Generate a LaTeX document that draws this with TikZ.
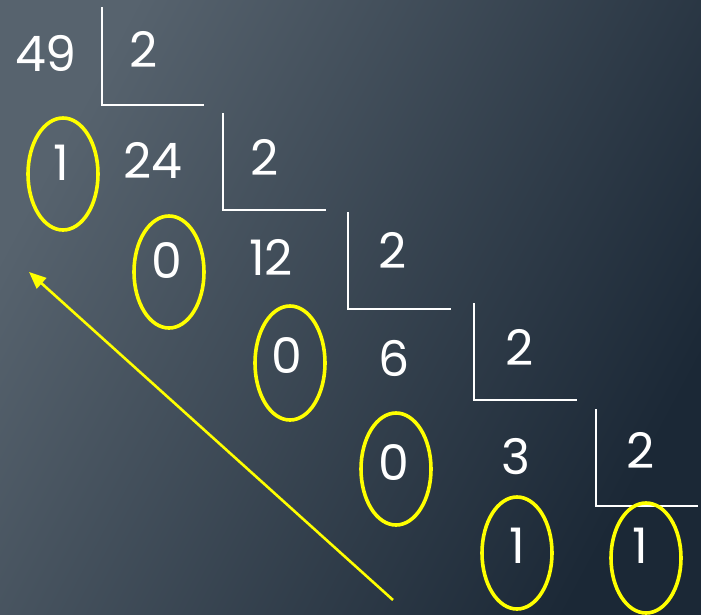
\documentclass[tikz,border=0pt]{standalone}
\usepackage{fontspec}
\setmainfont{Poppins}
\usetikzlibrary{arrows.meta}
\definecolor{bgA}{HTML}{57636E}
\definecolor{bgB}{HTML}{1B2836}
\definecolor{yel}{HTML}{FFFF00}
\begin{document}
\begin{tikzpicture}[x=1pt,y=-1pt,
  num/.style={text=white,inner sep=0pt,font=\fontsize{49}{49}\selectfont},
  ring/.style={draw=yel,line width=3.6pt},
  bracket/.style={draw=white,line width=2.4pt}]
\useasboundingbox (0,0) rectangle (701,614);
\shade[top color=bgA,bottom color=bgB,shading angle=62] (0,0) rectangle (701,614);
% brackets
\draw[bracket] (102,7) -- (102,105) -- (204,105);
\draw[bracket] (223,113) -- (223,210) -- (326,210);
\draw[bracket] (348,212) -- (348,309) -- (451,309);
\draw[bracket] (474,303) -- (474,400) -- (577,400);
\draw[bracket] (596,409) -- (596,506) -- (698,506);
% numbers
\node[num] (n49) at (46,53) {49};
\node[num] (d1) at (144,49) {2};
\node[num] (n24) at (153,160) {24};
\node[num] (d2) at (265,157) {2};
\node[num] (n12) at (271,257) {12};
\node[num] (d3) at (393,250) {2};
\node[num] (n6) at (394,358) {6};
\node[num] (d4) at (520,347) {2};
\node[num] (n3) at (516,457) {3};
\node[num] (d5) at (641,450) {2};
% remainders
\node[num] (r1) at (61,163) {1};
\node[num] (r2) at (167,261) {0};
\node[num] (r3) at (287,356) {0};
\node[num] (r4) at (394,463) {0};
\node[num] (r5) at (517,546) {1};
\node[num] (r6) at (640,546) {1};
% rings
\draw[ring] (63,174) ellipse [x radius=35, y radius=56];
\draw[ring] (169,272) ellipse [x radius=35, y radius=56];
\draw[ring] (290,363) ellipse [x radius=35, y radius=57];
\draw[ring] (396,469) ellipse [x radius=35, y radius=56];
\draw[ring] (517,553) ellipse [x radius=35, y radius=56];
\draw[ring] (646,558) ellipse [x radius=35, y radius=55];
% arrow
\coordinate (atail) at (393,600);
\coordinate (ahead) at (29,272);
\draw[yel,line width=2.6pt,-{Triangle[length=17pt,width=14pt]}] (atail) -- (ahead);
\end{tikzpicture}
\end{document}
